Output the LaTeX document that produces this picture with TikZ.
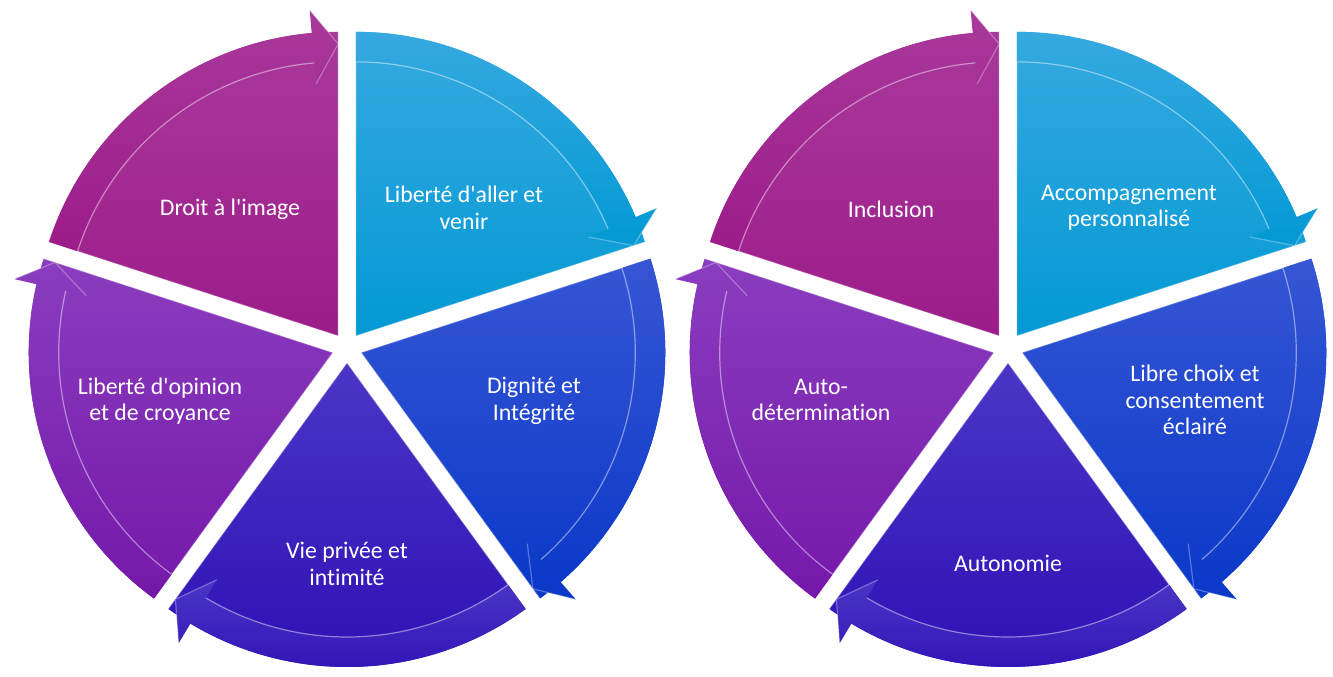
\documentclass[tikz,border=0pt]{standalone}
\usepackage{fontspec}
\setmainfont{Carlito}[Ligatures={NoCommon}]

\definecolor{cyanA}{HTML}{36A9E0}
\definecolor{cyanB}{HTML}{0399D4}
\definecolor{blueA}{HTML}{3656D4}
\definecolor{blueB}{HTML}{0A38C8}
\definecolor{indA}{HTML}{4A36C6}
\definecolor{indB}{HTML}{2E0EB4}
\definecolor{purA}{HTML}{8A3DBE}
\definecolor{purB}{HTML}{7518AA}
\definecolor{magA}{HTML}{A9399B}
\definecolor{magB}{HTML}{9C1C8A}

\begin{document}
\begin{tikzpicture}[x=1pt,y=1pt,
  band/.style={white, opacity=0.45, line width=1.2pt},
  lbl/.style={text=white, align=center, font=\fontsize{23.8}{26.5}\selectfont}]
\useasboundingbox (0,0) rectangle (1333,677);

\begin{scope}[shift={(347,329)}]
\coordinate (oL) at (0,0);
\foreach \i/\ca/\cb/\tx/\ty/\txt in {
  0/cyanA/cyanB/117/140/{Liberté d\textquotesingle aller et\\venir},
  1/blueA/blueB/187/-53/{Dignité et\\Intégrité},
  2/indA/indB/0/-216/{Vie privée et\\intimité},
  3/purA/purB/-187/-53/{Liberté d\textquotesingle opinion\\et de croyance},
  4/magA/magB/-117/139/{Droit à l\textquotesingle image}}{
  \pgfmathsetmacro\s{90-72*\i}
  \pgfmathsetmacro\e{18-72*\i}
  \pgfmathsetmacro\f{23-72*\i}
  \pgfmathsetmacro\b{54-72*\i}
  \begin{scope}[shift={(\b:15)}]
  \path[top color=\ca, bottom color=\cb] (0,0) -- (\s:304pt)
    arc[start angle=\s, end angle=\e, radius=304pt] -- cycle;
  \draw[band, opacity=0.25] (\e:304pt) -- (0,0) -- (\s:304pt);
  % arrow along the rim
  \path[top color=\ca, bottom color=\cb] (\s:304pt)
    arc[start angle=\s, end angle=\f, radius=304pt]
    -- (\f:327pt) -- (\e:292pt) -- (\f:253pt) -- (\f:274pt)
    arc[start angle=\f, end angle=\s, radius=274pt] -- cycle;
  \draw[band] (\f:274pt) arc[start angle=\f, end angle=\s, radius=274pt];
  \draw[band, opacity=0.3] (\f:327pt) -- (\e:292pt) -- (\f:253pt);
  \end{scope}
  \node[lbl] (L\i) at (\tx,\ty) {\txt};
}
\end{scope}

\begin{scope}[shift={(1008,329)}]
\coordinate (oR) at (0,0);
\foreach \i/\ca/\cb/\tx/\ty/\txt in {
  0/cyanA/cyanB/121/140/{Accompagnement\\personnalisé},
  1/blueA/blueB/187/-52/{Libre choix et\\consentement\\éclairé},
  2/indA/indB/0/-215/{Autonomie},
  3/purA/purB/-187/-52/{Auto-\\détermination},
  4/magA/magB/-117/139/{Inclusion}}{
  \pgfmathsetmacro\s{90-72*\i}
  \pgfmathsetmacro\e{18-72*\i}
  \pgfmathsetmacro\f{23-72*\i}
  \pgfmathsetmacro\b{54-72*\i}
  \begin{scope}[shift={(\b:15)}]
  \path[top color=\ca, bottom color=\cb] (0,0) -- (\s:304pt)
    arc[start angle=\s, end angle=\e, radius=304pt] -- cycle;
  \draw[band, opacity=0.25] (\e:304pt) -- (0,0) -- (\s:304pt);
  % arrow along the rim
  \path[top color=\ca, bottom color=\cb] (\s:304pt)
    arc[start angle=\s, end angle=\f, radius=304pt]
    -- (\f:327pt) -- (\e:292pt) -- (\f:253pt) -- (\f:274pt)
    arc[start angle=\f, end angle=\s, radius=274pt] -- cycle;
  \draw[band] (\f:274pt) arc[start angle=\f, end angle=\s, radius=274pt];
  \draw[band, opacity=0.3] (\f:327pt) -- (\e:292pt) -- (\f:253pt);
  \end{scope}
  \node[lbl] (R\i) at (\tx,\ty) {\txt};
}
\end{scope}

\end{tikzpicture}
\end{document}
